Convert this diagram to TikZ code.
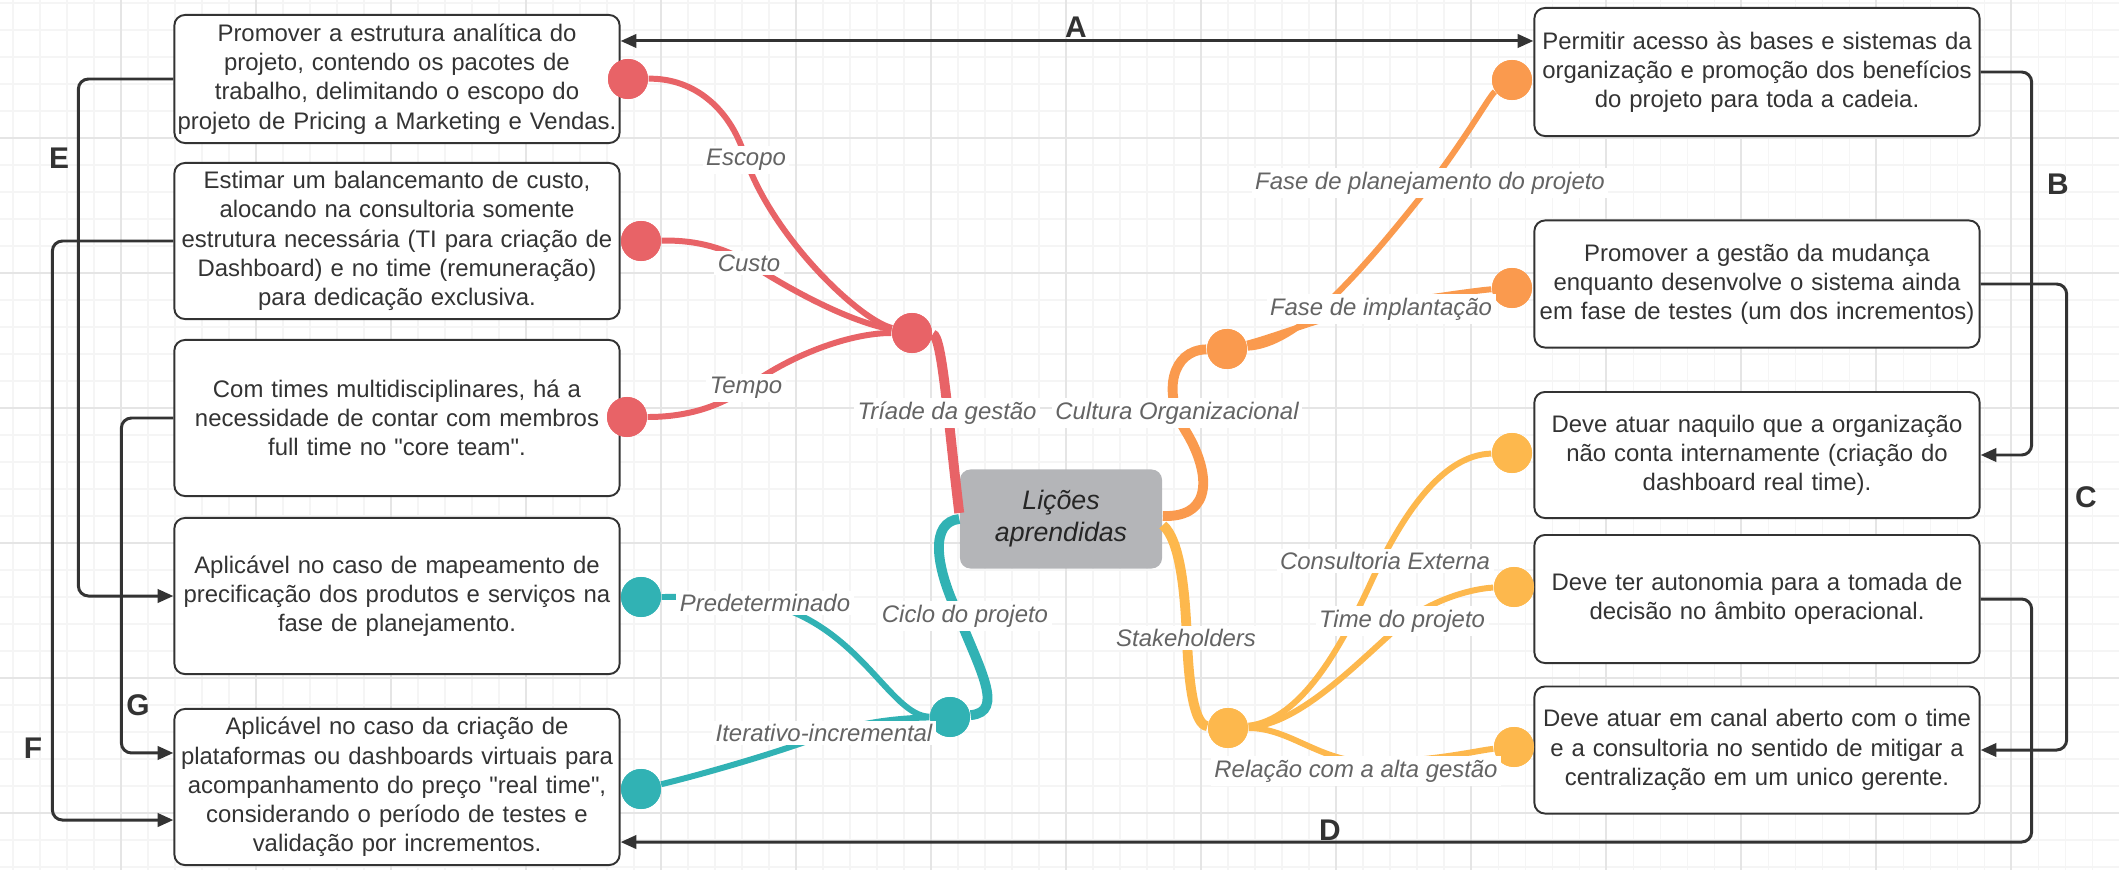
\documentclass[tikz,border=0pt]{standalone}
\usepackage{fontspec}
\setmainfont{Liberation Sans}
\usetikzlibrary{arrows.meta}

\definecolor{redmm}{RGB}{232,99,103}
\definecolor{tealmm}{RGB}{49,178,180}
\definecolor{orangemm}{RGB}{250,154,78}
\definecolor{yellowmm}{RGB}{253,184,77}
\definecolor{topicgray}{RGB}{180,181,184}
\definecolor{ink}{RGB}{51,51,51}
\definecolor{lblgray}{RGB}{100,100,100}

\begin{document}
\begin{tikzpicture}[x=0.01cm, y=-0.01cm,
  lessonbox/.style={draw=ink, line width=0.55pt, rounded corners=3pt, fill=white, text=ink,
    align=center, text width=4.45cm, inner xsep=0pt, inner ysep=0pt, minimum width=4.45cm,
    font=\fontsize{6.8}{8.3}\selectfont},
  topic/.style={fill=topicgray, rounded corners=3pt, align=center, text=black!85,
    minimum width=2.02cm, minimum height=0.99cm, inner sep=0pt,
    font=\fontsize{7.6}{9.1}\selectfont\itshape},
  hubdot/.style={circle, inner sep=0pt, minimum size=0.4cm},
  trunk/.style={line width=2.8pt},
  twig/.style={line width=1.7pt},
  branchlbl/.style={fill=white, inner sep=1pt, text=lblgray, font=\fontsize{6.8}{8}\selectfont\itshape},
  link/.style={draw=ink, line width=0.85pt, rounded corners=0.1cm},
  linkarrow/.style={link, -{Triangle[length=4.5pt,width=3.8pt]}},
  letter/.style={text=ink, font=\fontsize{8.5}{10}\selectfont\bfseries},
  gridfine/.style={draw=gray!8, line width=0.3pt},
  gridmajor/.style={draw=gray!20, line width=0.4pt}
]

%GRID
\useasboundingbox (0,0) rectangle (2119,870);
\foreach \gx in {13,40,...,2119} \draw[gridfine] (\gx,0) -- (\gx,870);
\foreach \gy in {3,30,...,870} \draw[gridfine] (0,\gy) -- (2119,\gy);
\foreach \gx in {121,256,...,2119} \draw[gridmajor] (\gx,0) -- (\gx,870);
\foreach \gy in {138,273,...,870} \draw[gridmajor] (0,\gy) -- (2119,\gy);
%GRID

\node[lessonbox, minimum height=1.28cm](l1) at (397,79) {Promover a estrutura analítica do\\projeto, contendo os pacotes de\\trabalho, delimitando o escopo do\\projeto de Pricing a Marketing e Vendas.};
\node[lessonbox, minimum height=1.56cm](l2) at (397,241) {Estimar um balancemanto de custo,\\alocando na consultoria somente\\estrutura necessária (TI para criação de\\Dashboard) e no time (remuneração)\\para dedicação exclusiva.};
\node[lessonbox, minimum height=1.56cm](l3) at (397,418) {Com times multidisciplinares, há a\\necessidade de contar com membros\\full time no \textquotedbl core team\textquotedbl.};
\node[lessonbox, minimum height=1.56cm](l4) at (397,596) {Aplicável no caso de mapeamento de\\precificação dos produtos e serviços na\\fase de planejamento.};
\node[lessonbox, minimum height=1.56cm](l5) at (397,787) {Aplicável no caso da criação de\\plataformas ou dashboards virtuais para\\acompanhamento do preço \textquotedbl real time\textquotedbl,\\considerando o período de testes e\\validação por incrementos.};

\node[lessonbox, minimum height=1.28cm](r1) at (1757,72) {Permitir acesso às bases e sistemas da\\organização e promoção dos benefícios\\do projeto para toda a cadeia.};
\node[lessonbox, minimum height=1.27cm](r2) at (1757,284) {Promover a gestão da mudança\\enquanto desenvolve o sistema ainda\\em fase de testes (um dos incrementos)};
\node[lessonbox, minimum height=1.26cm](r3) at (1757,455) {Deve atuar naquilo que a organização\\não conta internamente (criação do\\dashboard real time).};
\node[lessonbox, minimum height=1.28cm](r4) at (1757,599) {Deve ter autonomia para a tomada de\\decisão no âmbito operacional.};
\node[lessonbox, minimum height=1.27cm](r5) at (1757,750) {Deve atuar em canal aberto com o time\\e a consultoria no sentido de mitigar a\\centralização em um unico gerente.};

\node[topic](m) at (1061,519) {Lições\\aprendidas};

%LINKS
\draw[link, {Triangle[length=4.5pt,width=3.8pt]}-{Triangle[length=4.5pt,width=3.8pt]}] ([yshift=3.1mm]r1.west -| l1.east) -- ([yshift=3.1mm]r1.west);
\draw[linkarrow] (r1.east) -- ++(51,0) |- (r3.east);
\draw[linkarrow] (r2.east) -- ++(86,0) |- (r5.east);
\draw[linkarrow] (r4.east) -- ++(51,0) |- ([yshift=-5.5mm]l5.east);
\draw[linkarrow] (l1.west) -- ++(-95,0) |- (l4.west);
\draw[linkarrow] (l2.west) -- ++(-121,0) |- ([yshift=-3.3mm]l5.west);
\draw[linkarrow] (l3.west) -- ++(-52,0) |- ([yshift=3.4mm]l5.west);

\node[letter](la) at (1076,27) {A};
\node[letter](lb) at (2058,184) {B};
\node[letter](lc) at (2086,497) {C};
\node[letter](ld) at (1330,830) {D};
\node[letter](le) at (59,158) {E};
\node[letter](lf) at (33,748) {F};
\node[letter](lg) at (138,705) {G};

%DOTS
\node[hubdot, fill=redmm](hr) at (912,333) {};
\node[hubdot, fill=tealmm](ht) at (950,717) {};
\node[hubdot, fill=orangemm](ho) at (1227,349) {};
\node[hubdot, fill=yellowmm](hy) at (1228,728) {};

\node[hubdot, fill=redmm](d1) at (628,79) {};
\node[hubdot, fill=redmm](d2) at (641,241) {};
\node[hubdot, fill=redmm](d3) at (627,417) {};
\node[hubdot, fill=tealmm](d4) at (641,597) {};
\node[hubdot, fill=tealmm](d5) at (641,789) {};
\node[hubdot, fill=orangemm](d6) at (1512,80) {};
\node[hubdot, fill=orangemm](d7) at (1512,288) {};
\node[hubdot, fill=yellowmm](d8) at (1512,453) {};
\node[hubdot, fill=yellowmm](d9) at (1514,587) {};
\node[hubdot, fill=yellowmm](d10) at (1514,747) {};

%BRANCHES
\draw[trunk, redmm] ([yshift=0.6mm]m.west) .. controls (948,420) and (942,335) .. (hr);
\draw[trunk, tealmm] (m.west) .. controls (930,522) and (935,565) .. (957,612) .. controls (980,670) and (1005,712) .. (ht);
\draw[trunk, orangemm] ([yshift=0.3mm]m.east) .. controls (1215,518) and (1210,470) .. (1185,430) .. controls (1162,392) and (1172,350) .. (ho);
\draw[trunk, yellowmm] ([yshift=-0.6mm]m.east) .. controls (1180,540) and (1185,590) .. (1187,640) .. controls (1189,690) and (1195,725) .. (hy);

\draw[twig, redmm] (hr) .. controls (860,320) and (775,240) .. (746,160) .. controls (732,110) and (695,78) .. (d1);
\draw[twig, redmm] (hr) .. controls (850,322) and (790,290) .. (749,263) .. controls (720,245) and (690,240) .. (d2);
\draw[twig, redmm] (hr) .. controls (850,333) and (790,355) .. (746,388) .. controls (715,410) and (680,417) .. (d3);

\draw[twig, tealmm] (ht) .. controls (890,716) and (860,625) .. (765,603) .. controls (720,595) and (680,597) .. (d4);
\draw[twig, tealmm] (ht) .. controls (900,718) and (860,722) .. (824,735) .. controls (780,752) and (700,775) .. (d5);

\draw[twig, orangemm] (ho) .. controls (1290,345) and (1340,300) .. (1430,185) .. controls (1468,135) and (1490,95) .. (d6);
\draw[twig, orangemm] (ho) .. controls (1280,335) and (1330,314) .. (1381,305) .. controls (1430,297) and (1480,290) .. (d7);

\draw[twig, yellowmm] (hy) .. controls (1300,720) and (1340,650) .. (1372,580) .. controls (1400,520) and (1440,455) .. (d8);
\draw[twig, yellowmm] (hy) .. controls (1300,725) and (1360,660) .. (1404,622) .. controls (1440,595) and (1480,588) .. (d9);
\draw[twig, yellowmm] (hy) .. controls (1290,728) and (1320,762) .. (1370,762) .. controls (1430,762) and (1480,750) .. (d10);

%DOTS AGAIN ON TOP
\foreach \dd/\cc in {hr/redmm,ht/tealmm,ho/orangemm,hy/yellowmm,d1/redmm,d2/redmm,d3/redmm,d4/tealmm,d5/tealmm,d6/orangemm,d7/orangemm,d8/yellowmm,d9/yellowmm,d10/yellowmm}
  \fill[\cc] (\dd) circle (0.2cm);

%LABELS
\node[branchlbl](t1) at (746,160) {Escopo};
\node[branchlbl](t2) at (749,263) {Custo};
\node[branchlbl](t3) at (746,388) {Tempo};
\node[branchlbl](t4) at (947,413) {Tríade da gestão};
\node[branchlbl](t5) at (1177,413) {Cultura Organizacional};
\node[branchlbl](t6) at (1430,183) {Fase de planejamento do projeto};
\node[branchlbl](t7) at (1381,309) {Fase de implantação};
\node[branchlbl](t8) at (765,603) {Predeterminado};
\node[branchlbl](t9) at (965,616) {Ciclo do projeto};
\node[branchlbl](t10) at (824,733) {Iterativo-incremental};
\node[branchlbl](t11) at (1186,638) {Stakeholders};
\node[branchlbl](t12) at (1385,561) {Consultoria Externa};
\node[branchlbl](t13) at (1402,621) {Time do projeto};
\node[branchlbl](t14) at (1356,771) {Relação com a alta gestão};

\end{tikzpicture}
\end{document}
